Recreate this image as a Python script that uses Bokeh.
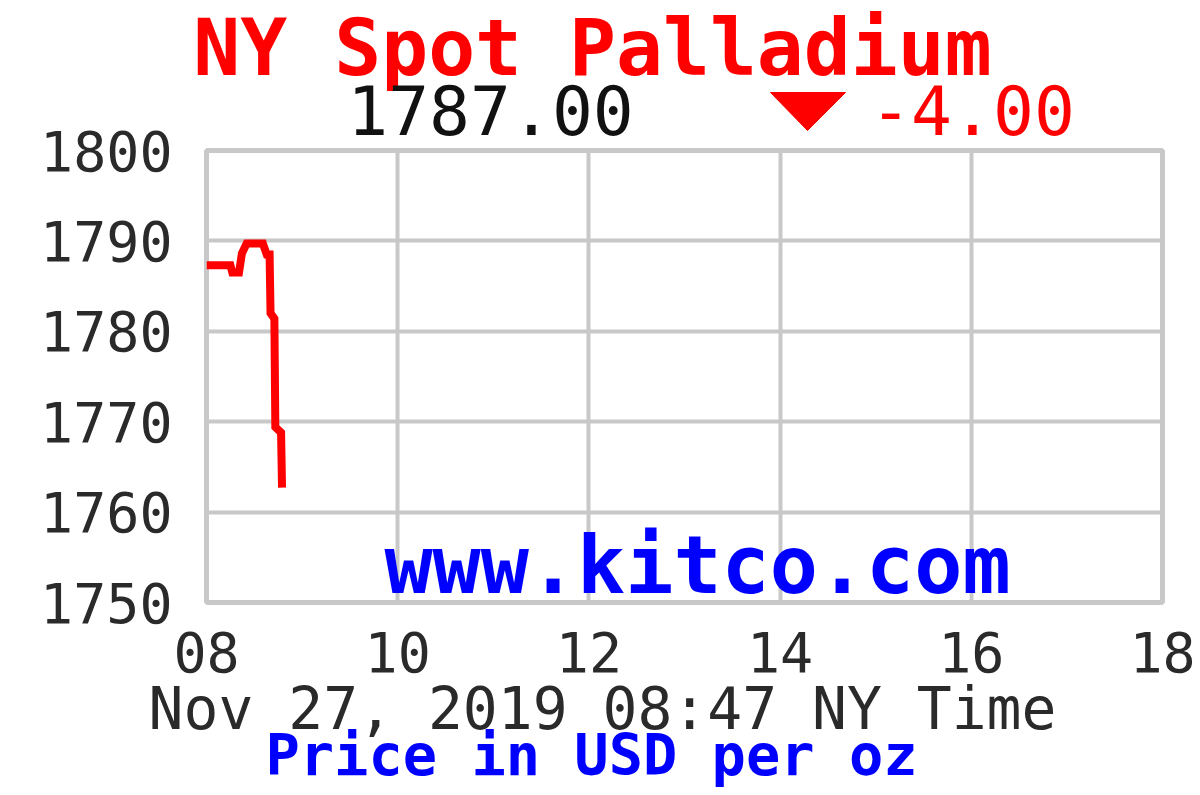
from bokeh.plotting import figure
from bokeh.models import Range1d, FixedTicker, PrintfTickFormatter
from bokeh.core.properties import value
from bokeh.embed import file_html
from bokeh.resources import INLINE

# ---- data ----
hours = [8.00, 8.25, 8.27, 8.34, 8.37, 8.42, 8.59, 8.63, 8.66, 8.67, 8.71, 8.72, 8.78, 8.79]
prices = [1787.3, 1787.3, 1786.5, 1786.5, 1788.6, 1789.7, 1789.7, 1788.5, 1788.5,
          1782.0, 1781.4, 1769.4, 1768.8, 1762.7]
x_ticks = [8, 10, 12, 14, 16, 18]
y_ticks = [1750, 1760, 1770, 1780, 1790, 1800]
title_text = "NY Spot Palladium"
last_price = "1787.00"
change_text = "-4.00"
date_text = "Nov 27, 2019 08:47 NY Time"
unit_text = "Price in USD per oz"
brand_text = "www.kitco.com"

MONO = "DejaVu Sans Mono"
GRID = "#c8c8c8"
W, H = 1200, 795
FL, FR, FT, FB = 206, 1162, 150, 602
X0, X1, Y0, Y1 = 8, 18, 1750, 1800

def px(xp):
    return X0 + (xp - FL) * (X1 - X0) / (FR - FL)

def py(yp):
    return Y1 - (yp - FT) * (Y1 - Y0) / (FB - FT)

p = figure(width=W, height=H, output_backend="svg", toolbar_location=None,
           x_range=Range1d(X0, X1), y_range=Range1d(Y0, Y1),
           min_border_left=FL, min_border_right=W - FR, min_border_top=FT,
           min_border_bottom=H - FB)
p.background_fill_color = "white"
p.border_fill_color = "white"
p.outline_line_color = GRID
p.outline_line_width = 5

p.xgrid.grid_line_color = GRID
p.xgrid.grid_line_width = 4
p.ygrid.grid_line_color = GRID
p.ygrid.grid_line_width = 4

p.xaxis.ticker = FixedTicker(ticks=x_ticks)
p.yaxis.ticker = FixedTicker(ticks=y_ticks)
p.xaxis.formatter = PrintfTickFormatter(format="%02d")
p.yaxis.formatter = PrintfTickFormatter(format="%d")
for ax in (p.xaxis, p.yaxis):
    ax.axis_line_color = None
    ax.major_tick_line_color = None
    ax.minor_tick_line_color = None
    ax.major_tick_out = 0
    ax.major_tick_in = 0
    ax.major_label_text_font = MONO
    ax.major_label_text_font_size = "55px"
    ax.major_label_text_color = "#2a2a2a"
p.xaxis.major_label_standoff = 29
p.yaxis.major_label_standoff = 34

p.line(hours, prices, line_color="#ff0000", line_width=8, line_join="miter")

def txt(text, xp, y, size, color, bold=False, baseline="alphabetic"):
    # overlay level so the text is not clipped to the plot frame
    if baseline == "alphabetic":
        y = y - 0.4 * size
    p.text(x=[px(xp)], y=[py(y)], text=[text], level="overlay",
           text_font=value(MONO), text_font_size=f"{size}px", text_color=color,
           text_font_style="bold" if bold else "normal",
           text_align="center", text_baseline=baseline)

txt(title_text, 592, 2, 78, "#ff0000", bold=True, baseline="top")
txt(last_price, 490, 137, 68, "#111111")
txt(change_text, 972, 137, 68, "#ff0000")
txt(brand_text, 697, 597, 80, "#0000ff", bold=True)
txt(date_text, 602, 732, 58, "#2a2a2a")
txt(unit_text, 591, 777, 57, "#0000ff", bold=True)

# down-arrow change indicator
p.patch(x=[px(770), px(845), px(807)], y=[py(92), py(92), py(130)],
        fill_color="#ff0000", line_color="#ff0000", level="overlay")

open("out.html", "w").write(file_html(p, INLINE))
